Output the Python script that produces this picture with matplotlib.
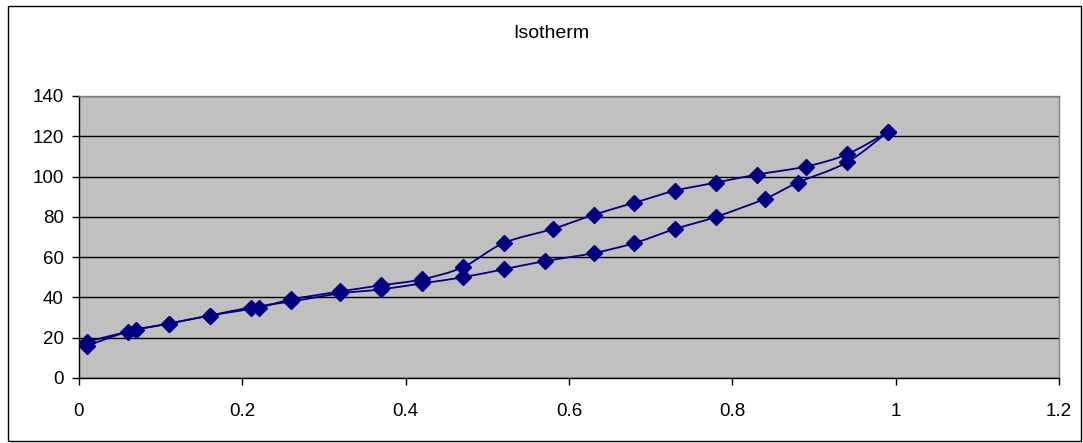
import matplotlib
matplotlib.use("Agg")
import matplotlib.pyplot as plt
from matplotlib.path import Path
from matplotlib.patches import PathPatch, Rectangle
import numpy as np

plt.rcParams['font.family'] = ['Liberation Sans', 'DejaVu Sans']

title = "Isotherm"
ads_x = [0.01, 0.06, 0.11, 0.16, 0.21, 0.26, 0.32, 0.37, 0.42, 0.47, 0.52, 0.57,
         0.63, 0.68, 0.73, 0.78, 0.84, 0.88, 0.94, 0.99]
ads_y = [16, 23, 27, 31, 35, 38, 42, 44, 47, 50, 54, 58,
         62, 67, 74, 80, 89, 97, 107, 122]
des_x = [0.99, 0.94, 0.89, 0.83, 0.78, 0.73, 0.68, 0.63, 0.58, 0.52, 0.47, 0.42,
         0.37, 0.32, 0.26, 0.22, 0.16, 0.11, 0.07, 0.01]
des_y = [122, 111, 105, 101, 97, 93, 87, 81, 74, 67, 55, 49,
         46, 43, 39, 35, 31, 27, 24, 18]
x_ticks = [0, 0.2, 0.4, 0.6, 0.8, 1, 1.2]
x_tick_labels = ["0", "0.2", "0.4", "0.6", "0.8", "1", "1.2"]
y_ticks = [0, 20, 40, 60, 80, 100, 120, 140]

W, H = 1083, 443
fig = plt.figure(figsize=(W / 100, H / 100), dpi=100)
fig.patch.set_facecolor('white')

L, R, T, B = 79, 1059, 96, 378
ax = fig.add_axes([L / W, 1 - B / H, (R - L) / W, (B - T) / H])
ax.set_facecolor('#C0C0C0')
ax.set_xlim(0, 1.2)
ax.set_ylim(0, 140)

for s in ['top', 'right']:
    ax.spines[s].set_color('#808080')
    ax.spines[s].set_linewidth(1.0)
for s in ['left', 'bottom']:
    ax.spines[s].set_color('black')
    ax.spines[s].set_linewidth(1.0)

ax.set_xticks(x_ticks)
ax.set_xticklabels(x_tick_labels)
ax.set_yticks(y_ticks)
ax.tick_params(direction='out', length=5, width=1, color='black',
               labelsize=13.5)
ax.tick_params(axis='y', pad=6)
ax.tick_params(axis='x', pad=13)
ax.yaxis.grid(True, color='black', linewidth=1.0)
ax.set_axisbelow(True)

color = '#000080'


def smooth_path(xs, ys, t=1.0 / 6):
    xs = np.asarray(xs, float)
    ys = np.asarray(ys, float)
    n = len(xs)
    verts = [(xs[0], ys[0])]
    codes = [Path.MOVETO]
    for i in range(n - 1):
        p0 = np.array([xs[max(i - 1, 0)], ys[max(i - 1, 0)]])
        p1 = np.array([xs[i], ys[i]])
        p2 = np.array([xs[i + 1], ys[i + 1]])
        p3 = np.array([xs[min(i + 2, n - 1)], ys[min(i + 2, n - 1)]])
        c1 = p1 + (p2 - p0) * t
        c2 = p2 - (p3 - p1) * t
        verts += [tuple(c1), tuple(c2), tuple(p2)]
        codes += [Path.CURVE4] * 3
    return Path(verts, codes)


for xs, ys in [(ads_x, ads_y), (des_x, des_y)]:
    ax.add_patch(PathPatch(smooth_path(xs, ys), fill=False, edgecolor=color,
                           linewidth=1.3, zorder=3))
    ax.plot(xs, ys, linestyle='none', marker='D', markersize=8,
            color=color, markeredgecolor=color, zorder=4)

fig.text(551 / W, 1 - 34 / H, title, ha='center', va='center', fontsize=14)

fig.patches.append(Rectangle((8 / W, 1 - 441 / H), (1081 - 8) / W, (441 - 6) / H,
                             transform=fig.transFigure, fill=False,
                             edgecolor='black', linewidth=1.0))

fig.savefig('out.png', dpi=100, facecolor='white')
